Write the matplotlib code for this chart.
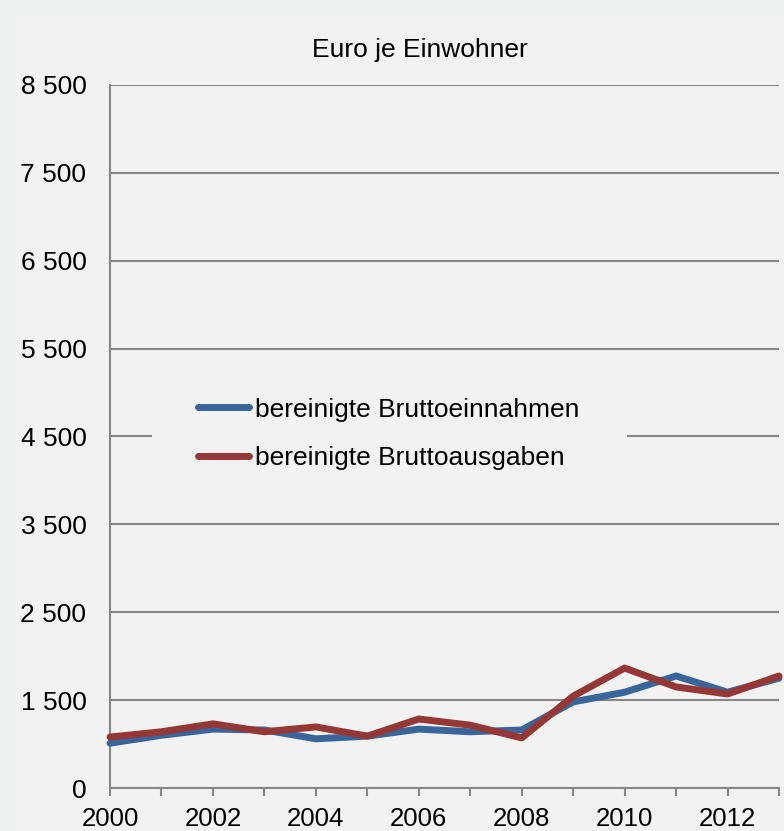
import numpy as np
import matplotlib
matplotlib.use('Agg')
import matplotlib.pyplot as plt
from matplotlib.patches import Rectangle

plt.rcParams['font.family'] = ['Liberation Sans', 'DejaVu Sans']

# Données (Euro je Einwohner)
jahre = list(range(2000, 2014))
einnahmen = [1010, 1100, 1170, 1160, 1060, 1090, 1170, 1140, 1160, 1480, 1590, 1775, 1590, 1750]
ausgaben = [1080, 1140, 1230, 1140, 1195, 1090, 1285, 1215, 1070, 1545, 1865, 1650, 1570, 1775]

y_ticks = [500, 1500, 2500, 3500, 4500, 5500, 6500, 7500, 8500]
y_labels = ['0', '1 500', '2 500', '3 500', '4 500', '5 500', '6 500', '7 500', '8 500']
x_labels = [str(j) if j % 2 == 0 else '' for j in jahre]

W, H = 784, 831
fig = plt.figure(figsize=(W / 100, H / 100), dpi=100, facecolor='#eef0ef')
# fond intérieur
fig.add_artist(Rectangle((16 / W, 0), 1 - 16 / W, 1 - 14 / H, transform=fig.transFigure,
                         facecolor='#f2f2f2', edgecolor='none', zorder=-10))

ax = fig.add_axes([110 / W, (H - 788) / H, (779 - 110) / W, (788 - 85) / H])
ax.set_facecolor('#f2f2f2')

grid_c = '#868686'
ax.plot(jahre, einnahmen, color='#3a659a', linewidth=5, label='bereinigte Bruttoeinnahmen',
        solid_capstyle='round', zorder=3, clip_on=False)
ax.plot(jahre, ausgaben, color='#953735', linewidth=5, label='bereinigte Bruttoausgaben',
        solid_capstyle='round', zorder=4, clip_on=False)

ax.set_xlim(2000, 2013)
ax.set_ylim(500, 8500)
ax.set_yticks(y_ticks)
ax.set_yticklabels(y_labels)
ax.set_xticks(jahre)
ax.set_xticklabels(x_labels)

ax.yaxis.grid(True, color=grid_c, linewidth=1.5)
ax.set_axisbelow(True)
for s in ['top', 'right']:
    ax.spines[s].set_visible(False)
for s in ['left', 'bottom']:
    ax.spines[s].set_color(grid_c)
    ax.spines[s].set_linewidth(1.5)

ax.tick_params(axis='y', length=0, pad=17, labelsize=19)
ax.tick_params(axis='x', length=6, width=1.5, color=grid_c, direction='out', pad=8, labelsize=18.5)

# masque derrière la légende (la ligne 4 500 est interrompue)
ax.add_patch(Rectangle((152 / W, 1 - 446 / H), 475 / W, 20 / H, transform=fig.transFigure,
                       facecolor='#f2f2f2', edgecolor='none', zorder=1))

leg = ax.legend(loc='center left', bbox_to_anchor=(198 / W, 1 - 434 / H), bbox_transform=fig.transFigure,
                frameon=False, fontsize=19, handlelength=1.95, handletextpad=0.2,
                borderpad=0, borderaxespad=0, labelspacing=0.94)
for l in leg.get_lines():
    l.set_linewidth(5)

fig.text(420 / W, 1 - 50 / H, 'Euro je Einwohner', ha='center', va='center', fontsize=19)

fig.savefig('out.png', dpi=100, facecolor=fig.get_facecolor())
